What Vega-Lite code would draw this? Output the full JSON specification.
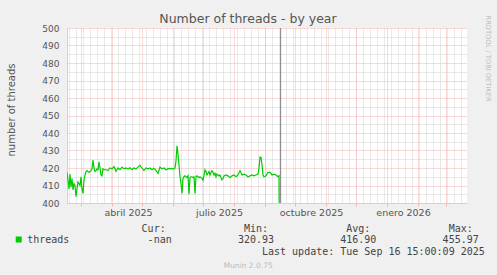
{
  "$schema": "https://vega.github.io/schema/vega-lite/v6.json",
  "width": 400,
  "height": 175,
  "autosize": {"type": "none"},
  "padding": {"left": 67, "top": 28, "right": 30, "bottom": 72},
  "background": "#f0f0f0",
  "config": {
    "view": {"fill": "#ffffff", "stroke": null},
    "font": "DejaVu Sans",
    "axis": {"labelFont": "DejaVu Sans", "titleFont": "DejaVu Sans"}
  },
  "title": {
    "text": "Number of threads - by year",
    "anchor": "middle",
    "dx": -19,
    "offset": -20.4,
    "baseline": "alphabetic",
    "font": "DejaVu Sans",
    "fontSize": 12.5,
    "fontWeight": "normal",
    "color": "#555555"
  },
  "datasets": {
    "threads": [
      {"date": "2025-02-15", "threads": 417.5},
      {"date": "2025-02-16", "threads": 413},
      {"date": "2025-02-17", "threads": 408},
      {"date": "2025-02-18", "threads": 416.5},
      {"date": "2025-02-19", "threads": 409},
      {"date": "2025-02-20", "threads": 414},
      {"date": "2025-02-21", "threads": 407.5},
      {"date": "2025-02-22", "threads": 411},
      {"date": "2025-02-23", "threads": 410},
      {"date": "2025-02-24", "threads": 403.6},
      {"date": "2025-02-25", "threads": 408},
      {"date": "2025-02-26", "threads": 412},
      {"date": "2025-02-27", "threads": 411},
      {"date": "2025-02-28", "threads": 410},
      {"date": "2025-03-01", "threads": 415},
      {"date": "2025-03-02", "threads": 408},
      {"date": "2025-03-03", "threads": 405.5},
      {"date": "2025-03-04", "threads": 413},
      {"date": "2025-03-05", "threads": 416},
      {"date": "2025-03-06", "threads": 418},
      {"date": "2025-03-07", "threads": 418.5},
      {"date": "2025-03-08", "threads": 418},
      {"date": "2025-03-09", "threads": 417.5},
      {"date": "2025-03-10", "threads": 418},
      {"date": "2025-03-11", "threads": 418.5},
      {"date": "2025-03-12", "threads": 419.5},
      {"date": "2025-03-13", "threads": 424.5},
      {"date": "2025-03-14", "threads": 420},
      {"date": "2025-03-15", "threads": 418},
      {"date": "2025-03-16", "threads": 418.5},
      {"date": "2025-03-17", "threads": 419.5},
      {"date": "2025-03-18", "threads": 419},
      {"date": "2025-03-19", "threads": 423.5},
      {"date": "2025-03-20", "threads": 420},
      {"date": "2025-03-21", "threads": 416},
      {"date": "2025-03-22", "threads": 415.5},
      {"date": "2025-03-23", "threads": 419.5},
      {"date": "2025-03-24", "threads": 419},
      {"date": "2025-03-26", "threads": 419},
      {"date": "2025-03-28", "threads": 418.5},
      {"date": "2025-03-30", "threads": 420},
      {"date": "2025-04-01", "threads": 419.5},
      {"date": "2025-04-03", "threads": 420.8},
      {"date": "2025-04-05", "threads": 418},
      {"date": "2025-04-07", "threads": 420},
      {"date": "2025-04-09", "threads": 419},
      {"date": "2025-04-11", "threads": 420.5},
      {"date": "2025-04-13", "threads": 419.5},
      {"date": "2025-04-15", "threads": 420},
      {"date": "2025-04-17", "threads": 419.5},
      {"date": "2025-04-19", "threads": 420.2},
      {"date": "2025-04-21", "threads": 419},
      {"date": "2025-04-23", "threads": 420},
      {"date": "2025-04-25", "threads": 419.5},
      {"date": "2025-04-27", "threads": 420.5},
      {"date": "2025-04-29", "threads": 421.5},
      {"date": "2025-05-01", "threads": 420},
      {"date": "2025-05-03", "threads": 418.5},
      {"date": "2025-05-05", "threads": 420},
      {"date": "2025-05-07", "threads": 419.5},
      {"date": "2025-05-09", "threads": 420},
      {"date": "2025-05-11", "threads": 419},
      {"date": "2025-05-13", "threads": 419.8},
      {"date": "2025-05-15", "threads": 418.5},
      {"date": "2025-05-17", "threads": 417},
      {"date": "2025-05-19", "threads": 420.5},
      {"date": "2025-05-21", "threads": 419.5},
      {"date": "2025-05-23", "threads": 420},
      {"date": "2025-05-25", "threads": 419},
      {"date": "2025-05-27", "threads": 419.5},
      {"date": "2025-05-29", "threads": 419.8},
      {"date": "2025-05-31", "threads": 419.5},
      {"date": "2025-06-02", "threads": 419.5},
      {"date": "2025-06-03", "threads": 420},
      {"date": "2025-06-04", "threads": 424},
      {"date": "2025-06-05", "threads": 432.7},
      {"date": "2025-06-06", "threads": 428},
      {"date": "2025-06-07", "threads": 422},
      {"date": "2025-06-08", "threads": 415},
      {"date": "2025-06-09", "threads": 411},
      {"date": "2025-06-10", "threads": 405.5},
      {"date": "2025-06-11", "threads": 414},
      {"date": "2025-06-12", "threads": 415},
      {"date": "2025-06-13", "threads": 415.5},
      {"date": "2025-06-14", "threads": 415},
      {"date": "2025-06-15", "threads": 414.5},
      {"date": "2025-06-16", "threads": 415.5},
      {"date": "2025-06-17", "threads": 405},
      {"date": "2025-06-18", "threads": 414.5},
      {"date": "2025-06-19", "threads": 415},
      {"date": "2025-06-20", "threads": 415},
      {"date": "2025-06-21", "threads": 414.5},
      {"date": "2025-06-22", "threads": 415},
      {"date": "2025-06-23", "threads": 405.5},
      {"date": "2025-06-24", "threads": 415},
      {"date": "2025-06-25", "threads": 415.5},
      {"date": "2025-06-26", "threads": 415},
      {"date": "2025-06-27", "threads": 414.5},
      {"date": "2025-06-28", "threads": 415},
      {"date": "2025-06-29", "threads": 414.5},
      {"date": "2025-06-30", "threads": 414},
      {"date": "2025-07-01", "threads": 413},
      {"date": "2025-07-02", "threads": 416},
      {"date": "2025-07-03", "threads": 419},
      {"date": "2025-07-04", "threads": 418},
      {"date": "2025-07-05", "threads": 416},
      {"date": "2025-07-06", "threads": 417},
      {"date": "2025-07-07", "threads": 418},
      {"date": "2025-07-08", "threads": 416},
      {"date": "2025-07-09", "threads": 417.5},
      {"date": "2025-07-10", "threads": 418.5},
      {"date": "2025-07-11", "threads": 417.5},
      {"date": "2025-07-12", "threads": 416},
      {"date": "2025-07-13", "threads": 417},
      {"date": "2025-07-14", "threads": 415},
      {"date": "2025-07-15", "threads": 416.5},
      {"date": "2025-07-16", "threads": 416},
      {"date": "2025-07-17", "threads": 415.5},
      {"date": "2025-07-18", "threads": 416},
      {"date": "2025-07-19", "threads": 414.5},
      {"date": "2025-07-20", "threads": 413.2},
      {"date": "2025-07-21", "threads": 414},
      {"date": "2025-07-22", "threads": 415.5},
      {"date": "2025-07-24", "threads": 416},
      {"date": "2025-07-26", "threads": 415.5},
      {"date": "2025-07-28", "threads": 414.5},
      {"date": "2025-07-30", "threads": 415.5},
      {"date": "2025-08-01", "threads": 416},
      {"date": "2025-08-03", "threads": 415},
      {"date": "2025-08-05", "threads": 416},
      {"date": "2025-08-07", "threads": 418.5},
      {"date": "2025-08-09", "threads": 416},
      {"date": "2025-08-11", "threads": 416.5},
      {"date": "2025-08-13", "threads": 416},
      {"date": "2025-08-15", "threads": 415},
      {"date": "2025-08-17", "threads": 415.5},
      {"date": "2025-08-19", "threads": 416},
      {"date": "2025-08-21", "threads": 415.5},
      {"date": "2025-08-23", "threads": 416},
      {"date": "2025-08-25", "threads": 416.5},
      {"date": "2025-08-26", "threads": 420},
      {"date": "2025-08-27", "threads": 426.2},
      {"date": "2025-08-28", "threads": 426},
      {"date": "2025-08-29", "threads": 422},
      {"date": "2025-08-30", "threads": 416},
      {"date": "2025-08-31", "threads": 415},
      {"date": "2025-09-02", "threads": 415.5},
      {"date": "2025-09-04", "threads": 417.5},
      {"date": "2025-09-06", "threads": 417.5},
      {"date": "2025-09-08", "threads": 416},
      {"date": "2025-09-10", "threads": 416.5},
      {"date": "2025-09-12", "threads": 416},
      {"date": "2025-09-14", "threads": 415},
      {"date": "2025-09-15", "threads": 415.5},
      {"date": "2025-09-16", "threads": 320.93}
    ],
    "lastUpdate": [
      {"updated": "2025-09-16T15:00:09Z"}
    ]
  },
  "layer": [
    {
      "data": {"name": "threads"},
      "mark": {"type": "line", "opacity": 0},
      "encoding": {
        "x": {
          "field": "date", "type": "temporal",
          "scale": {"type": "utc", "domain": [{"year": 2025, "month": 2, "date": 15, "utc": true}, {"year": 2026, "month": 3, "date": 22, "utc": true}]},
          "axis": {
            "orient": "bottom",
            "values": [
              {"year": 2025, "month": 2, "date": 17, "utc": true}, {"year": 2025, "month": 2, "date": 24, "utc": true},
              {"year": 2025, "month": 3, "date": 3, "utc": true}, {"year": 2025, "month": 3, "date": 10, "utc": true}, {"year": 2025, "month": 3, "date": 17, "utc": true}, {"year": 2025, "month": 3, "date": 24, "utc": true}, {"year": 2025, "month": 3, "date": 31, "utc": true},
              {"year": 2025, "month": 4, "date": 7, "utc": true}, {"year": 2025, "month": 4, "date": 14, "utc": true}, {"year": 2025, "month": 4, "date": 21, "utc": true}, {"year": 2025, "month": 4, "date": 28, "utc": true},
              {"year": 2025, "month": 5, "date": 5, "utc": true}, {"year": 2025, "month": 5, "date": 12, "utc": true}, {"year": 2025, "month": 5, "date": 19, "utc": true}, {"year": 2025, "month": 5, "date": 26, "utc": true},
              {"year": 2025, "month": 6, "date": 2, "utc": true}, {"year": 2025, "month": 6, "date": 9, "utc": true}, {"year": 2025, "month": 6, "date": 16, "utc": true}, {"year": 2025, "month": 6, "date": 23, "utc": true}, {"year": 2025, "month": 6, "date": 30, "utc": true},
              {"year": 2025, "month": 7, "date": 7, "utc": true}, {"year": 2025, "month": 7, "date": 14, "utc": true}, {"year": 2025, "month": 7, "date": 21, "utc": true}, {"year": 2025, "month": 7, "date": 28, "utc": true},
              {"year": 2025, "month": 8, "date": 4, "utc": true}, {"year": 2025, "month": 8, "date": 11, "utc": true}, {"year": 2025, "month": 8, "date": 18, "utc": true}, {"year": 2025, "month": 8, "date": 25, "utc": true},
              {"year": 2025, "month": 9, "date": 1, "utc": true}, {"year": 2025, "month": 9, "date": 8, "utc": true}, {"year": 2025, "month": 9, "date": 15, "utc": true}, {"year": 2025, "month": 9, "date": 22, "utc": true}, {"year": 2025, "month": 9, "date": 29, "utc": true},
              {"year": 2025, "month": 10, "date": 6, "utc": true}, {"year": 2025, "month": 10, "date": 13, "utc": true}, {"year": 2025, "month": 10, "date": 20, "utc": true}, {"year": 2025, "month": 10, "date": 27, "utc": true},
              {"year": 2025, "month": 11, "date": 3, "utc": true}, {"year": 2025, "month": 11, "date": 10, "utc": true}, {"year": 2025, "month": 11, "date": 17, "utc": true}, {"year": 2025, "month": 11, "date": 24, "utc": true},
              {"year": 2025, "month": 12, "date": 1, "utc": true}, {"year": 2025, "month": 12, "date": 8, "utc": true}, {"year": 2025, "month": 12, "date": 15, "utc": true}, {"year": 2025, "month": 12, "date": 22, "utc": true}, {"year": 2025, "month": 12, "date": 29, "utc": true},
              {"year": 2026, "month": 1, "date": 5, "utc": true}, {"year": 2026, "month": 1, "date": 12, "utc": true}, {"year": 2026, "month": 1, "date": 19, "utc": true}, {"year": 2026, "month": 1, "date": 26, "utc": true},
              {"year": 2026, "month": 2, "date": 2, "utc": true}, {"year": 2026, "month": 2, "date": 9, "utc": true}, {"year": 2026, "month": 2, "date": 16, "utc": true}, {"year": 2026, "month": 2, "date": 23, "utc": true},
              {"year": 2026, "month": 3, "date": 2, "utc": true}, {"year": 2026, "month": 3, "date": 9, "utc": true}, {"year": 2026, "month": 3, "date": 16, "utc": true}
            ],
            "grid": true, "gridColor": "#d2d2d2", "gridDash": [1, 1], "gridWidth": 1, "ticks": false, "labels": false, "domain": false, "title": null
          }
        },
        "y": {
          "field": "threads", "type": "quantitative",
          "scale": {"domain": [400, 500], "nice": false, "zero": false},
          "axis": {"orient": "left", "values": [405, 415, 425, 435, 445, 455, 465, 475, 485, 495], "grid": true, "gridColor": "#d2d2d2", "gridDash": [1, 1], "ticks": false, "labels": false, "domain": false, "title": null}
        }
      }
    },
    {
      "data": {"name": "threads"},
      "mark": {"type": "line", "strokeWidth": 1.2, "clip": true},
      "encoding": {
        "x": {
          "field": "date", "type": "temporal",
          "scale": {"type": "utc", "domain": [{"year": 2025, "month": 2, "date": 15, "utc": true}, {"year": 2026, "month": 3, "date": 22, "utc": true}]},
          "axis": {
            "orient": "bottom", "tickCount": {"interval": "month"}, "grid": true, "gridColor": "#f4b0b0", "gridDash": [1, 1],
            "ticks": true, "tickColor": "#f4b0b0", "tickSize": 3, "labels": false, "domain": true, "domainColor": "#ccccff",
            "title": [
              "\u200b\u00a0\u00a0\u00a0\u00a0\u00a0\u00a0\u00a0\u00a0\u00a0\u00a0\u00a0\u00a0\u00a0\u00a0\u00a0\u00a0\u00a0\u00a0\u00a0Cur:\u00a0\u00a0\u00a0\u00a0\u00a0\u00a0\u00a0\u00a0\u00a0\u00a0\u00a0\u00a0\u00a0Min:\u00a0\u00a0\u00a0\u00a0\u00a0\u00a0\u00a0\u00a0\u00a0\u00a0\u00a0\u00a0\u00a0Avg:\u00a0\u00a0\u00a0\u00a0\u00a0\u00a0\u00a0\u00a0\u00a0\u00a0\u00a0\u00a0\u00a0Max:",
              "threads\u00a0\u00a0\u00a0\u00a0\u00a0\u00a0\u00a0\u00a0\u00a0\u00a0\u00a0\u00a0\u00a0-nan\u00a0\u00a0\u00a0\u00a0\u00a0\u00a0\u00a0\u00a0\u00a0\u00a0\u00a0320.93\u00a0\u00a0\u00a0\u00a0\u00a0\u00a0\u00a0\u00a0\u00a0\u00a0\u00a0416.90\u00a0\u00a0\u00a0\u00a0\u00a0\u00a0\u00a0\u00a0\u00a0\u00a0\u00a0455.97",
              "\u200b\u00a0\u00a0\u00a0\u00a0\u00a0\u00a0\u00a0\u00a0\u00a0\u00a0\u00a0\u00a0\u00a0\u00a0\u00a0\u00a0\u00a0\u00a0\u00a0\u00a0\u00a0\u00a0\u00a0\u00a0\u00a0\u00a0\u00a0\u00a0\u00a0\u00a0\u00a0\u00a0\u00a0\u00a0\u00a0\u00a0\u00a0\u00a0\u00a0Last update: Tue Sep 16 15:00:09 2025"
            ],
            "titleX": -40.3, "titleY": 28, "titleAlign": "left", "titleBaseline": "alphabetic", "titleLimit": 600,
            "titleFont": "DejaVu Sans Mono", "titleFontSize": 10, "titleFontWeight": "normal", "titleColor": "#444444", "titleLineHeight": 11.7
          }
        },
        "y": {
          "field": "threads", "type": "quantitative",
          "scale": {"domain": [400, 500], "nice": false, "zero": false},
          "axis": {
            "orient": "left", "values": [400, 410, 420, 430, 440, 450, 460, 470, 480, 490, 500], "grid": true, "gridColor": "#f4b0b0", "gridDash": [1, 1],
            "ticks": false, "tickSize": 0, "labelPadding": 8, "labelFontSize": 9, "labelColor": "#555555",
            "domain": true, "domainColor": "#ccccff",
            "title": "number of threads", "titleX": -55.3, "titleY": 81.5, "titleAngle": -90, "titleAlign": "center", "titleBaseline": "middle",
            "titleFontSize": 10, "titleFontWeight": "normal", "titleColor": "#555555"
          }
        },
        "color": {
          "datum": "threads",
          "scale": {"range": ["#00cc00"]},
          "legend": {
            "orient": "none", "legendX": -53.3, "legendY": 206.5, "title": null, "padding": 0,
            "symbolType": "square", "symbolSize": 36, "symbolStrokeWidth": 0, "symbolFillColor": "#00cc00",
            "labelExpr": "''", "labelFontSize": 10, "labelOffset": 7,
            "encode": {"symbols": {"update": {"fill": {"value": "#00cc00"}, "stroke": {"value": "#00cc00"}, "strokeWidth": {"value": 0}}}}
          }
        }
      }
    },
    {
      "mark": {"type": "point", "shape": "triangle-up", "filled": true, "color": "#c6c6f5", "size": 30, "opacity": 1, "yOffset": -4.7, "clip": false},
      "encoding": {
        "x": {
          "datum": {"year": 2025, "month": 2, "date": 15, "utc": true}, "type": "temporal",
          "scale": {"type": "utc", "domain": [{"year": 2025, "month": 2, "date": 15, "utc": true}, {"year": 2026, "month": 3, "date": 22, "utc": true}]},
          "axis": null
        },
        "y": {
          "datum": 500, "type": "quantitative",
          "scale": {"domain": [400, 500], "nice": false, "zero": false},
          "axis": {
            "orient": "right", "grid": false, "ticks": false, "labels": false, "domain": false,
            "title": "RRDTOOL / TOBI OETIKER", "titleX": 20.5, "titleY": -13, "titleAngle": 90, "titleAlign": "left", "titleBaseline": "middle",
            "titleFontSize": 6.7, "titleFontWeight": "normal", "titleColor": "#bbbbbb"
          }
        }
      }
    },
    {
      "mark": {"type": "point", "shape": "triangle-right", "filled": true, "color": "#c6c6f5", "size": 30, "opacity": 1, "xOffset": 3.5, "clip": false},
      "encoding": {
        "x": {
          "datum": {"year": 2026, "month": 3, "date": 22, "utc": true}, "type": "temporal",
          "scale": {"type": "utc", "domain": [{"year": 2025, "month": 2, "date": 15, "utc": true}, {"year": 2026, "month": 3, "date": 22, "utc": true}]},
          "axis": null
        },
        "y": {
          "datum": 400, "type": "quantitative",
          "scale": {"domain": [400, 500], "nice": false, "zero": false},
          "axis": null
        }
      }
    },
    {
      "data": {"name": "lastUpdate"},
      "mark": {"type": "rule", "color": "#808080", "strokeWidth": 1},
      "encoding": {
        "x": {
          "field": "updated", "type": "temporal",
          "scale": {"type": "utc", "domain": [{"year": 2025, "month": 2, "date": 15, "utc": true}, {"year": 2026, "month": 3, "date": 22, "utc": true}]},
          "axis": {
            "orient": "bottom",
            "values": [{"year": 2025, "month": 4, "date": 17, "utc": true}, {"year": 2025, "month": 7, "date": 17, "utc": true}, {"year": 2025, "month": 10, "date": 17, "utc": true}, {"year": 2026, "month": 1, "date": 17, "utc": true}],
            "labelExpr": "['enero','febrero','marzo','abril','mayo','junio','julio','agosto','septiembre','octubre','noviembre','diciembre'][utcmonth(datum.value)] + ' ' + utcyear(datum.value)",
            "grid": false, "ticks": false, "tickSize": 0, "domain": false, "labelPadding": 12.5, "labelBaseline": "alphabetic",
            "labelFontSize": 9.5, "labelColor": "#555555", "labelFlush": false, "labelOverlap": false, "labelAlign": "center",
            "title": "Munin 2.0.75", "titleX": 180.7, "titleY": 64.7, "titleAlign": "center", "titleBaseline": "alphabetic",
            "titleFontSize": 7.5, "titleFontWeight": "normal", "titleColor": "#bbbbbb"
          }
        }
      }
    }
  ],
  "resolve": {"axis": {"x": "independent", "y": "independent"}}
}
